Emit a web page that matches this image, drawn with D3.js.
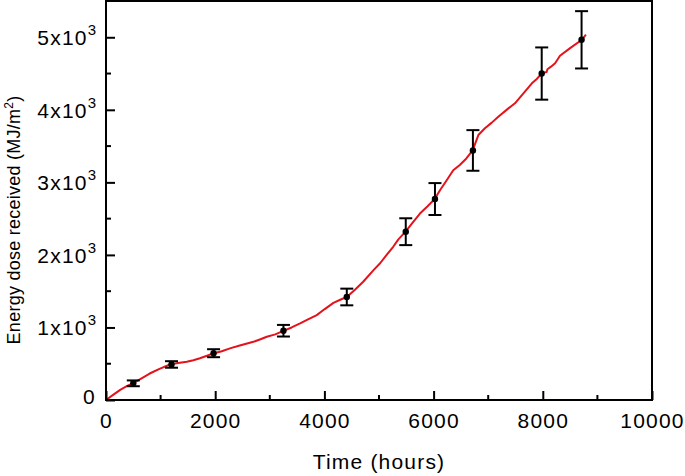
<!DOCTYPE html>
<html>
<head>
<meta charset="utf-8">
<script src="https://cdn.jsdelivr.net/npm/d3@7"></script>
<style>
  body { margin: 0; background: #fff; }
  text { font-family: "Liberation Sans", Arial, sans-serif; fill: #000; }
</style>
</head>
<body>
<div class="content"></div>
<script>
const SVG_WIDTH = 685;
const SVG_HEIGHT = 476;
const MARGIN = {left: 106, right: 33, top: 1, bottom: 76};

// measured points with error bars
const hours = [500, 1200, 1970, 3250, 4410, 5490, 6025, 6720, 7980, 8710];
const dose = [230, 490, 645, 955, 1420, 2320, 2770, 3440, 4500, 4965];
const doseErr = [40, 45, 55, 80, 115, 185, 220, 280, 360, 395];

// continuous record (red line)
const lineHours = [0, 130, 260, 380, 490, 620, 800, 980, 1170, 1320, 1480, 1600, 1720, 1850, 1965, 2120, 2270, 2450, 2700, 2830, 2945, 3100, 3250, 3400, 3555, 3700, 3860, 4000, 4165, 4300, 4410, 4560, 4710, 4900, 5020, 5140, 5260, 5355, 5490, 5620, 5750, 5890, 6020, 6120, 6240, 6360, 6480, 6600, 6715, 6820, 6940, 7060, 7185, 7370, 7490, 7645, 7800, 7890, 7980, 8070, 8085, 8150, 8225, 8315, 8500, 8710, 8790];
const lineDose = [0, 70, 140, 190, 230, 285, 365, 430, 490, 510, 528, 548, 575, 610, 642, 672, 712, 752, 802, 838, 872, 905, 953, 1000, 1055, 1110, 1170, 1250, 1338, 1385, 1420, 1520, 1630, 1790, 1885, 2000, 2112, 2215, 2325, 2450, 2570, 2670, 2770, 2895, 3030, 3168, 3240, 3330, 3440, 3652, 3745, 3820, 3905, 4020, 4090, 4227, 4365, 4425, 4502, 4522, 4560, 4595, 4642, 4745, 4850, 4962, 5035];

const xTicks = [0, 2000, 4000, 6000, 8000, 10000];
const xMinorTicks = [1000, 3000, 5000, 7000, 9000];
const yTicks = [0, 1000, 2000, 3000, 4000, 5000];
const yMinorTicks = [500, 1500, 2500, 3500, 4500];
const yTickMantissa = ["0", "1", "2", "3", "4", "5"];

const svg = d3.select(".content").append("svg")
    .attr("width", SVG_WIDTH).attr("height", SVG_HEIGHT);

const x = d3.scaleLinear().domain([0, 10000]).range([MARGIN.left, SVG_WIDTH - MARGIN.right]);
const y = d3.scaleLinear().domain([0, 5500]).range([SVG_HEIGHT - MARGIN.bottom, MARGIN.top]);

// red line
const line = d3.line().x(d => x(d[0])).y(d => y(d[1]));
svg.append("path")
    .datum(d3.zip(lineHours, lineDose))
    .attr("d", line)
    .attr("fill", "none")
    .attr("stroke", "#e3131b")
    .attr("stroke-width", 2)
    .attr("stroke-linejoin", "round");

// error bars
const pts = d3.zip(hours, dose, doseErr);
const eb = svg.append("g").attr("stroke", "#000").attr("stroke-width", 2);
eb.selectAll(".v").data(pts).join("line")
    .attr("x1", d => x(d[0])).attr("x2", d => x(d[0]))
    .attr("y1", d => y(d[1] - d[2])).attr("y2", d => y(d[1] + d[2]));
eb.selectAll(".top").data(pts).join("line")
    .attr("x1", d => x(d[0]) - 6.5).attr("x2", d => x(d[0]) + 6.5)
    .attr("y1", d => y(d[1] + d[2])).attr("y2", d => y(d[1] + d[2]));
eb.selectAll(".bot").data(pts).join("line")
    .attr("x1", d => x(d[0]) - 6.5).attr("x2", d => x(d[0]) + 6.5)
    .attr("y1", d => y(d[1] - d[2])).attr("y2", d => y(d[1] - d[2]));
svg.append("g").selectAll("circle").data(pts).join("circle")
    .attr("cx", d => x(d[0])).attr("cy", d => y(d[1]))
    .attr("r", 3.2).attr("fill", "#000");

// axes with inward ticks
const xAxis = svg.append("g").attr("transform", "translate(0," + y(0) + ")");
xAxis.call(d3.axisBottom(x).tickValues(xTicks).tickSize(-9).tickPadding(13.5).tickFormat(d3.format("d")));
xAxis.selectAll(".minor").data(xMinorTicks).join("line").attr("class", "minor")
    .attr("x1", d => x(d)).attr("x2", d => x(d)).attr("y1", 0).attr("y2", -5)
    .attr("stroke", "#000").attr("stroke-width", 2);

const yAxis = svg.append("g").attr("transform", "translate(" + x(0) + ",0)");
yAxis.call(d3.axisLeft(y).tickValues(yTicks).tickSize(-9).tickFormat(""));
yAxis.selectAll(".minor").data(yMinorTicks).join("line").attr("class", "minor")
    .attr("x1", 0).attr("x2", 5).attr("y1", d => y(d)).attr("y2", d => y(d))
    .attr("stroke", "#000").attr("stroke-width", 2);

svg.selectAll(".domain").remove();
svg.selectAll(".tick line").attr("stroke", "#000").attr("stroke-width", 2);
xAxis.selectAll(".tick text")
    .attr("font-size", 21).attr("letter-spacing", 1.2)
    .attr("font-family", "Liberation Sans, Arial, sans-serif");

// y tick labels with superscript exponent
const yl = svg.append("g").selectAll("text").data(yTicks).join("text")
    .attr("x", x(0) - 10)
    .attr("y", d => d === 0 ? y(d) + 3.5 : y(d) + 7.7)
    .attr("text-anchor", "end").attr("font-size", 21).attr("letter-spacing", 1.2);
yl.each(function(d, i) {
    const t = d3.select(this);
    if (d === 0) { t.text("0"); return; }
    t.append("tspan").text(yTickMantissa[i] + "x10");
    t.append("tspan").attr("dy", -10).attr("font-size", 15).attr("letter-spacing", 0).text("3");
});

// frame
svg.append("rect")
    .attr("x", x(0)).attr("y", y(5500))
    .attr("width", x(10000) - x(0)).attr("height", y(0) - y(5500))
    .attr("fill", "none").attr("stroke", "#000").attr("stroke-width", 2);

// axis titles
svg.append("text")
    .attr("x", (x(0) + x(10000)) / 2).attr("y", 469)
    .attr("text-anchor", "middle").attr("font-size", 21).attr("letter-spacing", 1.2)
    .text("Time (hours)");

const yt = svg.append("text")
    .attr("transform", "translate(20," + 220 + ") rotate(-90)")
    .attr("text-anchor", "middle").attr("font-size", 18).attr("letter-spacing", 0.25);
yt.append("tspan").text("Energy dose received (MJ/m");
yt.append("tspan").attr("dy", -7).attr("font-size", 12).text("2");
yt.append("tspan").attr("dy", 7).text(")");
</script>
</body>
</html>
